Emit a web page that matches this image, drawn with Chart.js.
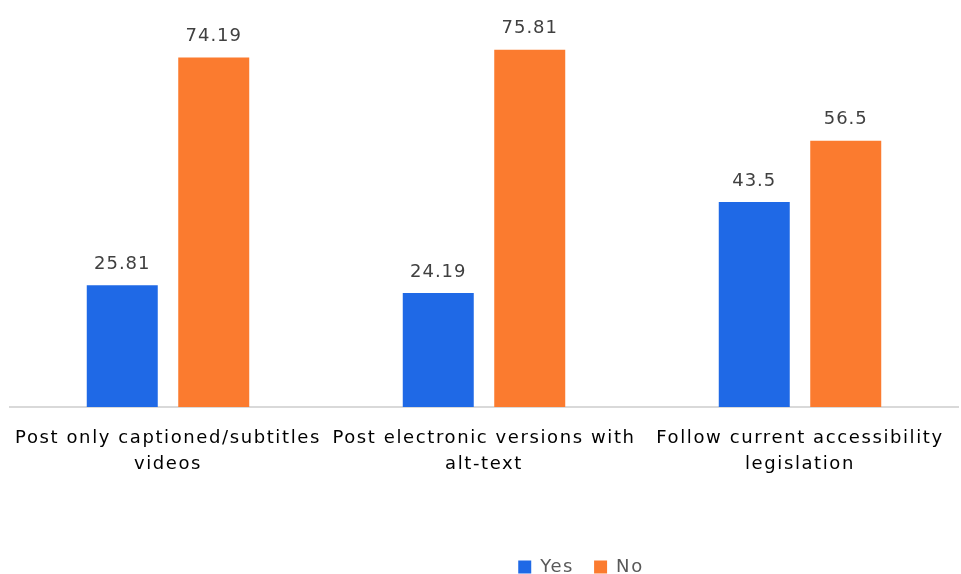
<!DOCTYPE html>
<html>
<head>
<meta charset="utf-8">
<script src="https://cdn.jsdelivr.net/npm/chart.js@4/dist/chart.umd.min.js"></script>
<style>
  html, body { margin: 0; padding: 0; background: #fff; }
  #wrap { width: 961px; height: 574px; }
</style>
</head>
<body>
<div id="wrap"><canvas id="policyChart" width="961" height="574"></canvas></div>
<script>
// categories and shares (%)
const categories = [
  ['Post only captioned/subtitles', 'videos'],
  ['Post electronic versions with', 'alt-text'],
  ['Follow current accessibility', 'legislation']
];
const yesValues = [25.81, 24.19, 43.5];
const noValues = [74.19, 75.81, 56.5];

// wider letter spacing for axis and legend text
const spacing = {
  id: 'spacing',
  beforeUpdate(chart) { chart.ctx.letterSpacing = '1.6px'; },
  beforeDraw(chart) { chart.ctx.letterSpacing = '1.6px'; }
};

// value above each bar
const barValues = {
  id: 'barValues',
  afterDatasetsDraw(chart) {
    const ctx = chart.ctx;
    ctx.save();
    ctx.letterSpacing = '1px';
    ctx.font = '18px "DejaVu Sans"';
    ctx.fillStyle = '#404040';
    ctx.textAlign = 'center';
    ctx.textBaseline = 'middle';
    chart.data.datasets.forEach((ds, i) => {
      chart.getDatasetMeta(i).data.forEach((bar, j) => {
        ctx.fillText(String(ds.data[j]), bar.x, bar.y - 21);
      });
    });
    ctx.restore();
  }
};

// legend sits right of centre, near the bottom edge
const legendShift = {
  id: 'legendShift',
  afterLayout(chart) {
    const lg = chart.legend;
    lg.left += 97;
    lg.right += 97;
    lg.top += 12;
    lg.bottom += 12;
  }
};

new Chart(document.getElementById('policyChart'), {
  type: 'bar',
  data: {
    labels: categories,
    datasets: [
      { label: 'Yes', data: yesValues, backgroundColor: '#1f69e6' },
      { label: 'No', data: noValues, backgroundColor: '#fb7b2f' }
    ]
  },
  options: {
    responsive: false,
    animation: false,
    categoryPercentage: 0.579,
    barPercentage: 0.776,
    layout: { padding: { top: 30, left: 10, right: 3, bottom: 0 } },
    plugins: {
      legend: {
        position: 'bottom',
        labels: {
          boxWidth: 13,
          boxHeight: 13,
          padding: 20,
          color: '#595959',
          font: { family: 'DejaVu Sans', size: 18 }
        }
      },
      tooltip: { enabled: false }
    },
    scales: {
      x: {
        grid: { display: false },
        border: { color: '#d9d9d9', width: 2 },
        ticks: {
          color: '#000',
          padding: 11,
          maxRotation: 0,
          font: { family: 'DejaVu Sans', size: 18, lineHeight: 1.42 }
        },
        afterFit(axis) { axis.height = 119; }
      },
      y: {
        display: false,
        min: 0,
        max: 80
      }
    }
  },
  plugins: [spacing, barValues, legendShift]
});
</script>
</body>
</html>
